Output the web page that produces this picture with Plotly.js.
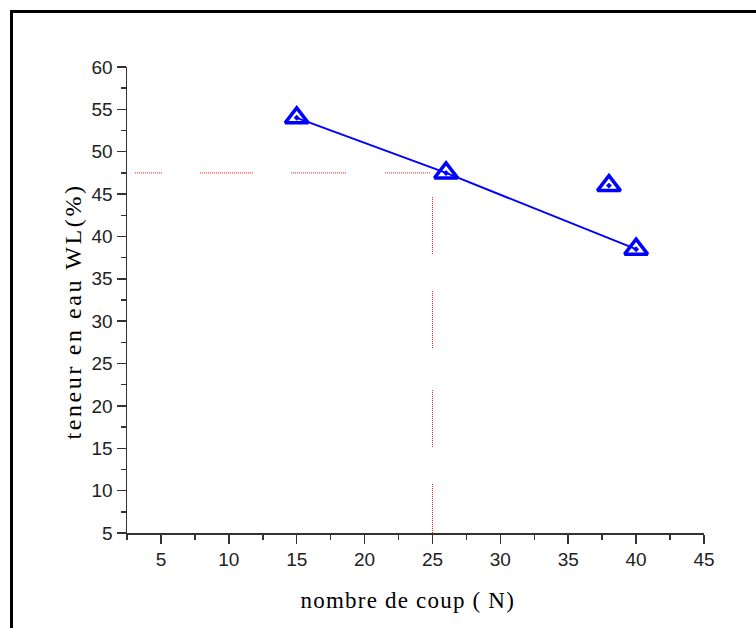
<!DOCTYPE html>
<html>
<head>
<meta charset="utf-8">
<script src="https://cdn.plot.ly/plotly-3.0.1.min.js"></script>
<style>
  html, body { margin: 0; padding: 0; background: #fff; }
  #wrap { position: relative; width: 756px; height: 628px; overflow: hidden; }
  #chart { position: absolute; left: 0; top: 0; width: 756px; height: 628px; }
  #frame { position: absolute; left: 10px; top: 10px; width: 800px; height: 700px;
           border-left: 3px solid #000; border-top: 3px solid #000; pointer-events: none; }
  #chart .annotation[data-index="0"] .annotation-text { letter-spacing: 1.2px; }
  #chart .annotation[data-index="1"] .annotation-text { letter-spacing: 2.6px; }
</style>
</head>
<body>
<div id="wrap">
  <div id="chart"></div>
  <div id="frame"></div>
</div>
<script>
// Measured water content against number of blows
const blowsFit = [15, 26, 40];
const waterFit = [54, 47.5, 38.5];
const blowsExtra = [38];
const waterExtra = [46];

// Liquid-limit reading at 25 blows
const refBlows = [25];
const refWater = [47.5];

// Axis extents
const xRange = [2.5, 45];
const yRange = [5, 60];

// Axis titles
const xTitle = 'nombre de coup ( N)';
const yTitle = 'teneur en eau WL(%)';

// Builds a dasharray of dotted runs: each run = [gap, dotted length] in px
function dottedRuns(runs) {
  const parts = [];
  runs.forEach(([gap, len]) => {
    parts.push('0px', gap + 'px');
    for (let i = 0; i < Math.floor(len / 2); i++) parts.push('1px', '1px');
  });
  return parts.join(',');
}

const blue = '#0000ff';
const red = '#ff1a1a';

const markerStyle = { symbol: 'triangle-up-open-dot', size: 20, color: blue, line: { color: blue, width: 3.5 } };

const traces = [
  {
    x: [xRange[0], refBlows[0]],
    y: [refWater[0], refWater[0]],
    mode: 'lines',
    line: { color: red, width: 1, dash: dottedRuns([[8, 28], [37, 54], [37, 57], [38, 46], [2000, 2]]) },
    hoverinfo: 'skip'
  },
  {
    x: [refBlows[0], refBlows[0]],
    y: [yRange[0], refWater[0]],
    mode: 'lines',
    line: { color: red, width: 1, dash: dottedRuns([[0, 50], [36, 59], [41, 59], [36, 59], [2000, 2]]) },
    hoverinfo: 'skip'
  },
  {
    x: blowsFit,
    y: waterFit,
    mode: 'lines+markers',
    line: { color: blue, width: 2 },
    marker: markerStyle
  },
  {
    x: blowsExtra,
    y: waterExtra,
    mode: 'markers',
    marker: markerStyle
  }
];

const tickFont = { family: '"Liberation Sans Narrow", "Arial Narrow", "Liberation Sans", sans-serif', size: 19, color: '#222' };
const axisCommon = {
  showgrid: false,
  zeroline: false,
  showline: true,
  linecolor: '#333',
  linewidth: 1.5,
  ticks: 'outside',
  ticklen: 9,
  tickwidth: 1.5,
  tickcolor: '#333',
  tickfont: tickFont,
  dtick: 5,
  tick0: 0,
  minor: { ticks: 'outside', ticklen: 5, tickwidth: 1.5, tickcolor: '#333', dtick: 2.5, tick0: 0 },
  mirror: false
};

const titleFont = { family: '"Liberation Serif", serif', color: '#000' };

const layout = {
  width: 756,
  height: 628,
  margin: { l: 127, r: 52, t: 67, b: 95 },
  paper_bgcolor: '#fff',
  plot_bgcolor: '#fff',
  showlegend: false,
  xaxis: Object.assign({}, axisCommon, { range: xRange }),
  yaxis: Object.assign({}, axisCommon, { range: yRange }),
  annotations: [
    {
      text: xTitle, xref: 'paper', yref: 'paper', x: 0.487, y: -0.144,
      xanchor: 'center', yanchor: 'middle', showarrow: false,
      font: Object.assign({ size: 23 }, titleFont)
    },
    {
      text: yTitle, xref: 'paper', yref: 'paper', x: -0.095, y: 0.475,
      xanchor: 'center', yanchor: 'middle', showarrow: false, textangle: -90,
      font: Object.assign({ size: 24 }, titleFont)
    }
  ]
};

Plotly.newPlot('chart', traces, layout, { staticPlot: true, displayModeBar: false });
</script>
</body>
</html>
